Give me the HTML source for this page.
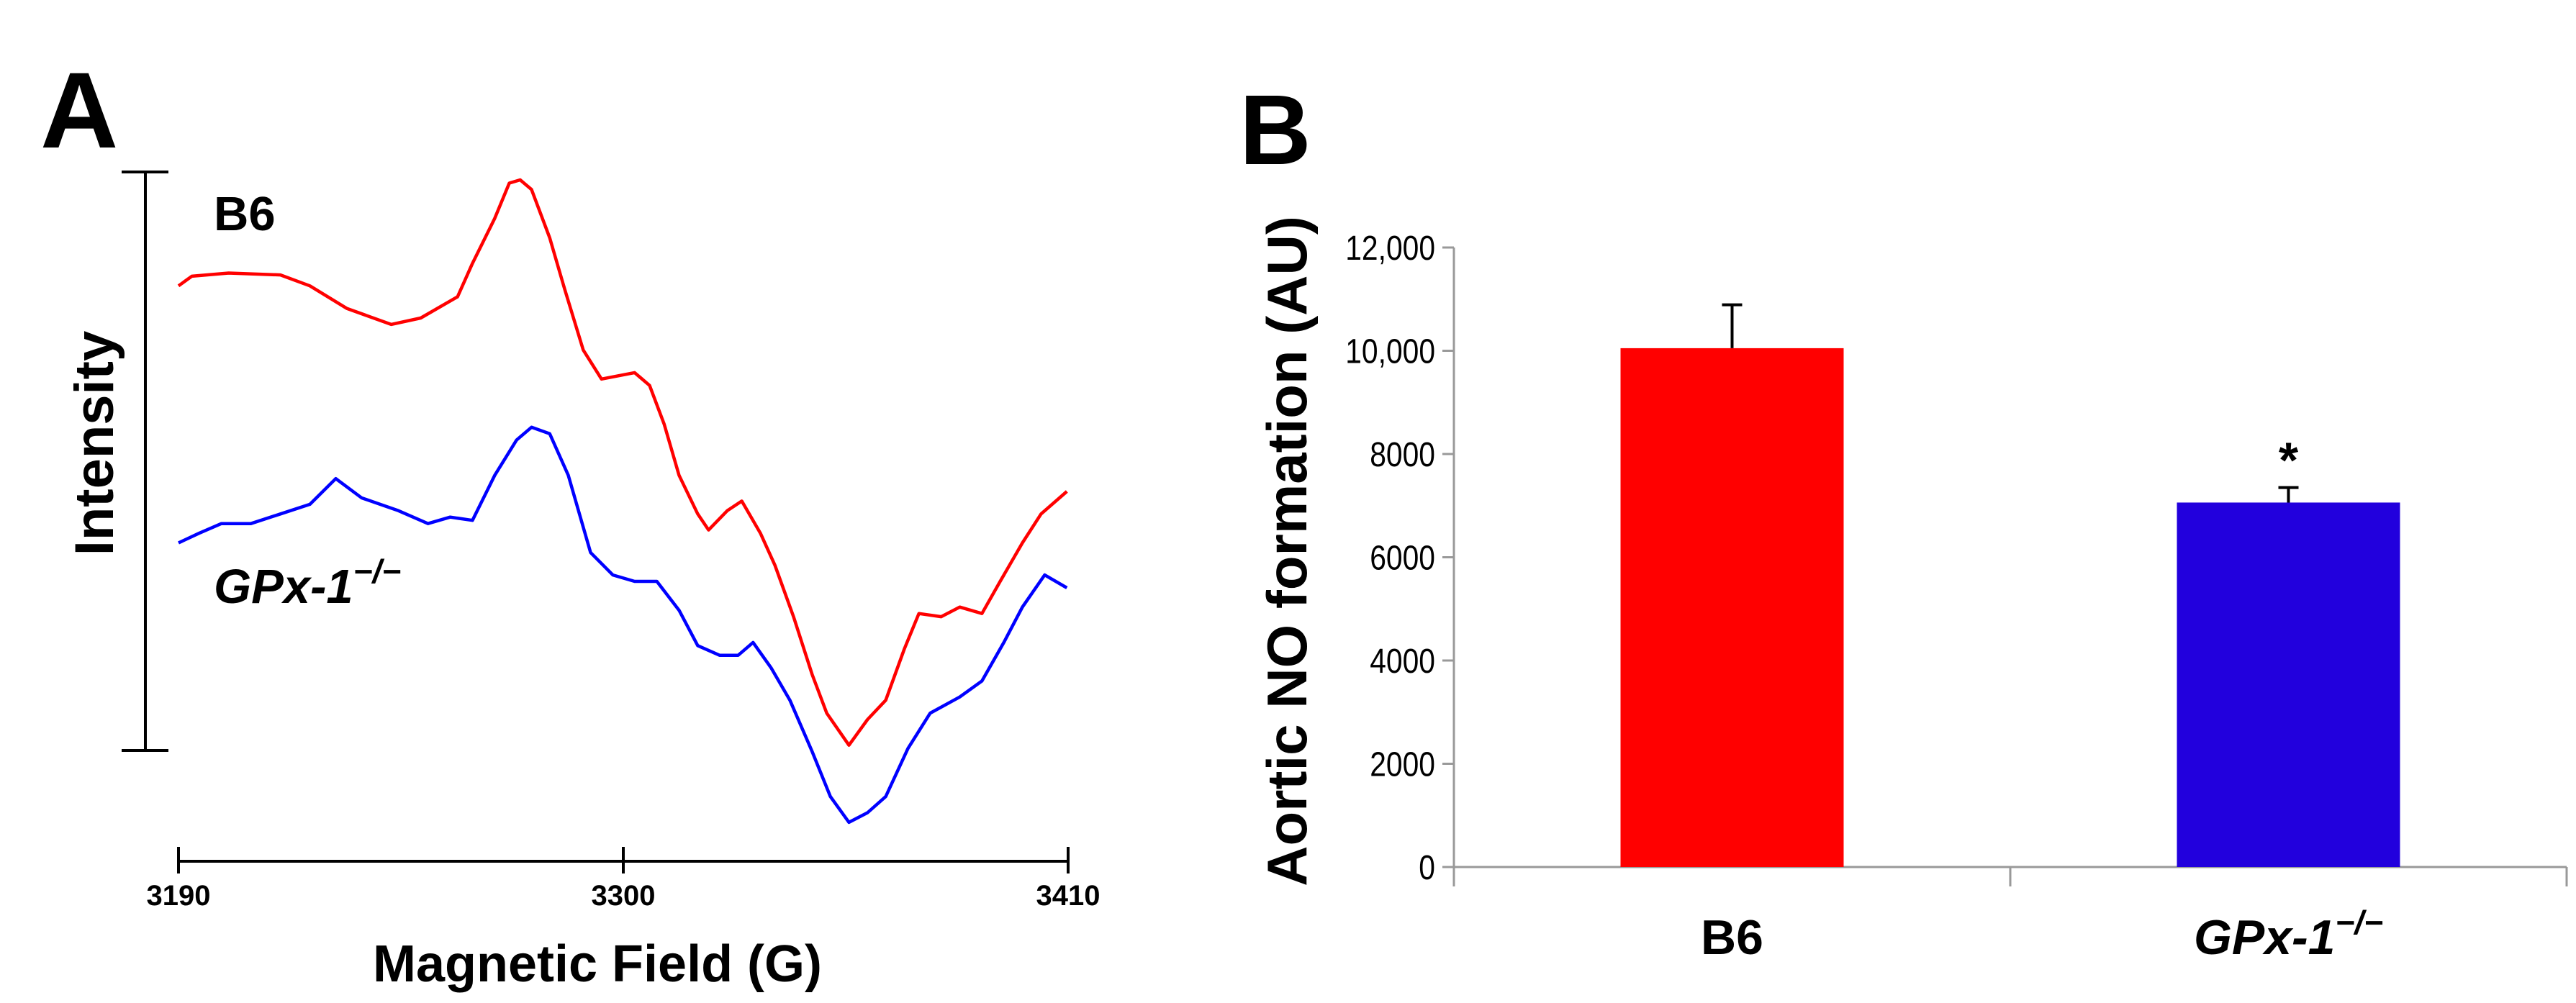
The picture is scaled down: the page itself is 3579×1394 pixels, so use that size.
<!DOCTYPE html>
<html><head><meta charset="utf-8"><style>
html,body{margin:0;padding:0;background:#fff;}
svg{display:block;font-family:"Liberation Sans",Arial,sans-serif;}
</style></head><body>
<svg id="fig" width="3579" height="1394" viewBox="0 0 3579 1394" xmlns="http://www.w3.org/2000/svg">
<g id="panelA">
<text x="56" y="205" font-size="150" font-weight="bold">A</text>
<g stroke="#000" stroke-width="4">
<line x1="202" y1="239" x2="202" y2="1043"/><line x1="169" y1="239" x2="234" y2="239"/><line x1="169" y1="1043" x2="234" y2="1043"/>
</g>
<text transform="translate(157,616) rotate(-90)" text-anchor="middle" font-size="76" font-weight="bold">Intensity</text>
<text x="297" y="320" font-size="67" font-weight="bold">B6</text>
<text x="297" y="838" font-size="67" font-weight="bold" font-style="italic">GPx-1<tspan dy="-28" font-size="46">−/−</tspan></text>
<g id="axA"></g>
<g id="linesA"></g>
<text x="830" y="1364" text-anchor="middle" font-size="72" font-weight="bold">Magnetic Field (G)</text>
</g>
<g id="panelB">
<text x="1722" y="228" font-size="138" font-weight="bold">B</text>
<text transform="translate(1815,766) rotate(-90)" text-anchor="middle" font-size="78" font-weight="bold">Aortic NO formation (AU)</text>
<g id="axB"></g>
<g id="barsB"></g>
</g>
</svg>
<script>
// Panel A data
const fieldTicks = [3190, 3300, 3410];
const redField = [3190,3193.3,3202.4,3215.2,3222.5,3231.6,3242.6,3249.9,3259,3262.7,3268.2,3271.8,3274.5,3277.3,3281.8,3285.5,3290.1,3294.6,3302.8,3306.5,3310.1,3313.8,3318.4,3321.1,3325.7,3329.3,3333.9,3337.5,3342.1,3346.7,3350.3,3355.8,3360.4,3364.9,3369.5,3373.1,3378.6,3383.2,3388.7,3393.2,3398.7,3403.3,3409.7];
const redIntensity = [111.5,113,113.5,113.2,111.5,108,105.5,106.5,109.8,115,122,127.5,128,126.5,119,111,101.5,97,98,96,90,82,76,73.5,76.5,78,73,68,60,51,45,40,44,47,55,60.5,60,61.5,60.5,65.5,71.5,76,79.5];
const blueField = [3190,3195.1,3200.6,3207.9,3215.2,3222.5,3228.9,3235.3,3244.4,3251.7,3257.2,3262.7,3268.2,3273.6,3277.3,3281.8,3286.4,3291.9,3297.4,3302.8,3308.3,3313.8,3318.4,3323.8,3328.4,3332.1,3336.6,3341.2,3346.7,3351.2,3355.8,3360.4,3364.9,3370.4,3375.9,3383.2,3388.7,3394.1,3398.7,3404.2,3409.7];
const blueIntensity = [71.5,73,74.5,74.5,76,77.5,81.5,78.5,76.5,74.5,75.5,75,82,87.5,89.5,88.5,82,70,66.5,65.5,65.5,61,55.5,54,54,56,52,47,39,32,28,29.5,32,39.5,45,47.5,50,56,61.5,66.5,64.5];
// Panel B data
const categories = ["B6", "GPx-1"];
const barValues = [10050, 7060];
const errValues = [840, 290];
const yTicks = [0, 2000, 4000, 6000, 8000, 10000, 12000];
const yTickLabels = ["0","2000","4000","6000","8000","10,000","12,000"];

const NS = "http://www.w3.org/2000/svg";
function mk(tag, attrs, parent){const e=document.createElementNS(NS,tag);for(const k in attrs)e.setAttribute(k,attrs[k]);parent.appendChild(e);return e;}

// Panel A scales
const xA = g => 248 + (g-3190)/220*(1484-248);
const yA = v => (1560 - v*10)/1.12;
const axA = document.getElementById('axA');
let l = mk('line',{x1:248,y1:1197,x2:1484,y2:1197,stroke:'#000','stroke-width':4},axA);


fieldTicks.forEach(t=>{
  const tk = mk('line',{x1:xA(t),y1:1177,x2:xA(t),y2:1214,stroke:'#000','stroke-width':4},axA);
  
  
  const tl = mk('text',{x:xA(t),y:1258,'text-anchor':'middle','font-size':40,'font-weight':'bold'},axA);
  tl.textContent = t;
  
  
});
const linesA = document.getElementById('linesA');
function drawLine(xs, ys, color, name){
  const d = xs.map((x,i)=>(i?'L':'M')+xA(x).toFixed(1)+','+yA(ys[i]).toFixed(1)).join(' ');
  const p = mk('path',{d:d,fill:'none',stroke:color,'stroke-width':4.5,'stroke-linejoin':'round'},linesA);
  
  
}
drawLine(redField, redIntensity, '#ff0000', 'b6-spectrum-line');
drawLine(blueField, blueIntensity, '#0000ff', 'gpx1-spectrum-line');

// Panel B scales
const y0 = 1205, yTop = 344;
const yB = v => y0 - v/12000*(y0-yTop);
const axB = document.getElementById('axB');
l = mk('line',{x1:2020,y1:yTop,x2:2020,y2:y0,stroke:'#999','stroke-width':3},axB);


l = mk('line',{x1:2020,y1:y0,x2:3566,y2:y0,stroke:'#999','stroke-width':3},axB);


[2020,2793,3566].forEach(x=>{
  const t = mk('line',{x1:x,y1:y0,x2:x,y2:1232,stroke:'#999','stroke-width':3},axB);
  
  
});
yTicks.forEach((v,i)=>{
  const t = mk('line',{x1:2004,y1:yB(v),x2:2020,y2:yB(v),stroke:'#999','stroke-width':3},axB);
  
  
  const tl = mk('text',{x:0,y:0,transform:`translate(1994,${yB(v)+17}) scale(0.85,1)`,'text-anchor':'end','font-size':48},axB);
  tl.textContent = yTickLabels[i];
  
  
});
const barsB = document.getElementById('barsB');
const centers = [2406.5, 3179.5];
const colors = ['#ff0000','#2200dd'];
const bw = 310;
categories.forEach((c,i)=>{
  const cx = centers[i];
  const r = mk('rect',{x:cx-bw/2,y:yB(barValues[i]),width:bw,height:y0-yB(barValues[i]),fill:colors[i]},barsB);
  
  
  const top = yB(barValues[i]+errValues[i]);
  const e = mk('path',{d:`M${cx},${yB(barValues[i])} L${cx},${top} M${cx-14},${top} L${cx+14},${top}`,stroke:'#000','stroke-width':4,fill:'none'},barsB);
  
  
  const lab = mk('text',{x:cx,y:1326,'text-anchor':'middle','font-size':68,'font-weight':'bold'},barsB);
  
  
  if(i===0){lab.textContent=c;}
  else{
    lab.setAttribute('font-style','italic');
    lab.textContent=c;
    const ts = mk('tspan',{dy:-28,'font-size':46},lab);
    ts.textContent='−/−';
  }
});
const star = mk('text',{x:centers[1],y:yB(barValues[1]+errValues[1])-14,'text-anchor':'middle','font-size':70,'font-weight':'bold'},barsB);
star.textContent='*';


</script>
</body></html>
